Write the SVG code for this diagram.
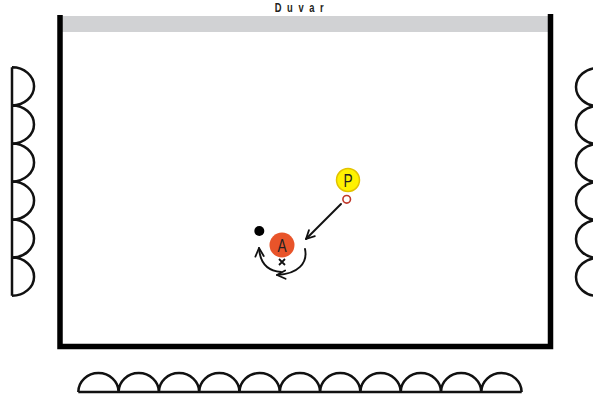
<svg xmlns="http://www.w3.org/2000/svg" width="593" height="401" viewBox="0 0 593 401">
  <defs>
    <marker id="arr" viewBox="0 0 10 10" refX="9" refY="5" markerWidth="5.5" markerHeight="5.5" orient="auto" markerUnits="strokeWidth">
      <polyline points="1,1 9,5 1,9" fill="none" stroke="#111" stroke-width="1.7" stroke-linecap="round" stroke-linejoin="round"/>
    </marker>
    <style>
      .arc { fill: none; stroke: #111; stroke-width: 2.5; }
      .wall { fill: none; stroke: #000; stroke-width: 5.5; stroke-linejoin: miter; }
      .lbl { font-family: "Liberation Sans", Arial, sans-serif; fill: #231f20; text-anchor: middle; }
      .conn { fill: none; stroke: #111; stroke-width: 1.9; stroke-linecap: round; }
    </style>
  </defs>
  <rect x="0" y="0" width="593" height="401" fill="#fff"/>

  <g id="wall-label">
    <rect x="62" y="16" width="486" height="16" fill="#d1d2d4"/>
    <text class="lbl" transform="translate(302,11.5) scale(0.75,1)" x="0" y="0" font-size="12.5" font-weight="bold" letter-spacing="7.5">Duvar</text>
  </g>

  <g id="court">
    <path class="wall" d="M60,15 V346.5 H550.5 V14"/>
  </g>

  <g id="left-benches">
    <path class="arc" d="M12,67.3 V295.7
      M12,67.3 A22,19 0 0 1 12,105.4
      M12,105.4 A22,19 0 0 1 12,143.4
      M12,143.4 A22,19 0 0 1 12,181.5
      M12,181.5 A22,19 0 0 1 12,219.6
      M12,219.6 A22,19 0 0 1 12,257.6
      M12,257.6 A22,19 0 0 1 12,295.7"/>
  </g>

  <g id="right-benches">
    <path class="arc" d="M598,68 V296
      M598,68 A22,19 0 0 0 598,106
      M598,106 A22,19 0 0 0 598,144
      M598,144 A22,19 0 0 0 598,182
      M598,182 A22,19 0 0 0 598,220
      M598,220 A22,19 0 0 0 598,258
      M598,258 A22,19 0 0 0 598,296"/>
  </g>

  <g id="bottom-benches">
    <path class="arc" d="M78.3,392 H521.7
      M78.3,392 A20.15,19 0 0 1 118.6,392
      M118.6,392 A20.15,19 0 0 1 158.9,392
      M158.9,392 A20.15,19 0 0 1 199.2,392
      M199.2,392 A20.15,19 0 0 1 239.5,392
      M239.5,392 A20.15,19 0 0 1 279.8,392
      M279.8,392 A20.15,19 0 0 1 320.1,392
      M320.1,392 A20.15,19 0 0 1 360.4,392
      M360.4,392 A20.15,19 0 0 1 400.7,392
      M400.7,392 A20.15,19 0 0 1 441,392
      M441,392 A20.15,19 0 0 1 481.3,392
      M481.3,392 A20.15,19 0 0 1 521.6,392"/>
  </g>

  <g id="connectors">
    <path class="conn" d="M341,204 L306,239" marker-end="url(#arr)"/>
    <path class="conn" d="M305,249 C308,263 298,274 277,275" marker-end="url(#arr)"/>
    <path class="conn" d="M281,272 C268,271 260,263 259,248" marker-end="url(#arr)"/>
  </g>

  <g id="node-P">
    <circle cx="348" cy="180" r="11.5" fill="#fff200" stroke="#e2c200" stroke-width="1.5"/>
    <text class="lbl" transform="translate(348,187) scale(0.72,1)" x="0" y="0" font-size="19">P</text>
  </g>

  <g id="node-P-start">
    <circle cx="346.7" cy="199.3" r="3.8" fill="#fff" stroke="#c0392b" stroke-width="1.6"/>
  </g>

  <g id="node-ball">
    <circle cx="259.3" cy="231" r="5" fill="#000"/>
  </g>

  <g id="node-A">
    <circle cx="282" cy="245" r="12.5" fill="#e8542a"/>
    <text class="lbl" transform="translate(282,252) scale(0.72,1)" x="0" y="0" font-size="19">A</text>
  </g>

  <g id="node-x">
    <path d="M279,259 L285,265 M285,259 L279,265" stroke="#111" stroke-width="1.8" fill="none"/>
  </g>
</svg>
